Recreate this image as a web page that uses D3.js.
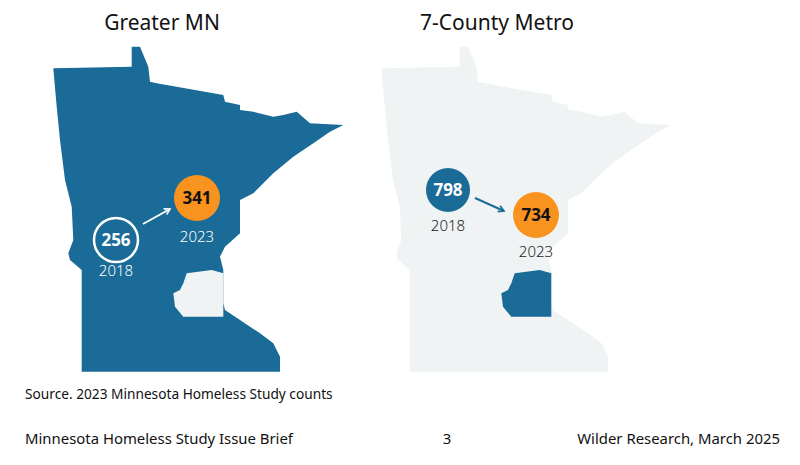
<!DOCTYPE html>
<html><head><meta charset="utf-8">
<script src="https://cdn.jsdelivr.net/npm/d3@7"></script>
<style>body{margin:0;background:#fff}text{font-family:"Noto Sans",sans-serif}</style>
</head><body><svg id="c" width="800" height="465"></svg>
<script>
// data //
const regions = ["Greater MN", "7-County Metro"];
const values2018 = [256, 798];
const values2023 = [341, 734];
const years = ["2018", "2023"];

const blue = "#1a6b97", pale = "#eff3f4", orange = "#f7931e";

// state outline, local coords of left map
const stateOutline = [[131.7,46.7],[140,46.7],[148.3,66.7],[150,81.7],[156.7,83.3],[223.3,95],[225,101.7],[240,105],[240,110],[253.3,111.7],[273.3,116.7],[283.3,115],[296.7,111.7],[310,123.3],[343.3,125],[330,131.7],[313.3,143.3],[293.3,156.7],[273.3,173.3],[253.3,193.3],[240,200],[240,233.3],[225,246.7],[220,256.7],[223.3,270],[223.3,303.3],[225,310],[240,320],[260,333.3],[273.3,343.3],[280,356.7],[280,371.7],[81.7,371.7],[81.7,270],[70,260],[68.3,253.3],[73.3,240],[71.7,206.7],[65,180],[60,140],[56.7,106.7],[53.3,68.3],[131.7,66.7]];
const metroOutline = [[186.7,273.3],[211.7,270],[223.3,273.3],[223.3,316.7],[183.3,316.7],[175,306.7],[173.3,293.3],[180,290],[183.3,283.3]];

const svg = d3.select("#c");
const line = d3.line().curve(d3.curveLinearClosed);
svg.append("defs").append("marker").attr("id","ah").attr("viewBox","0 0 10 10")
  .attr("refX",8).attr("refY",5).attr("markerWidth",4).attr("markerHeight",4).attr("orient","auto")
  .append("path").attr("d","M1,1L8,5L1,9").attr("fill","none").attr("stroke","context-stroke").attr("stroke-width",2);

const panels = [
  {dx:0, state:blue, metro:pale, c18:{x:116,y:240,fill:"none",stroke:"#fff",txt:"#fff"}, c23:{x:197,y:198}, lab18:270, lab23:236, labCol:"#fff", arrow:[[143,224],[170,209]], arrowCol:"#fff", title:162},
  {dx:328, state:pale, metro:blue, c18:{x:448,y:190,fill:blue,stroke:"none",txt:"#fff"}, c23:{x:536,y:215}, lab18:225, lab23:251, labCol:"#222", arrow:[[475,198],[504,211]], arrowCol:blue, title:497}
];

panels.forEach((p, i) => {
  const g = svg.append("g");
  g.append("path").attr("d", line(stateOutline.map(d => [d[0]+p.dx, d[1]]))).attr("fill", p.state);
  g.append("path").attr("d", line(metroOutline.map(d => [d[0]+p.dx, d[1]]))).attr("fill", p.metro);
  svg.append("text").attr("x", p.title).attr("y", 30).attr("text-anchor","middle")
    .attr("font-size", 21).attr("fill","#111").text(regions[i]);
  svg.append("path").attr("d", d3.line()(p.arrow)).attr("stroke", p.arrowCol).attr("stroke-width",2)
    .attr("fill","none").attr("marker-end","url(#ah)");
  // 2018
  svg.append("circle").attr("cx",p.c18.x).attr("cy",p.c18.y).attr("r",22)
    .attr("fill",p.c18.fill).attr("stroke",p.c18.stroke).attr("stroke-width",2.5);
  svg.append("text").attr("x",p.c18.x).attr("y",p.c18.y+6).attr("text-anchor","middle")
    .attr("font-size",17).attr("font-weight","bold").attr("fill",p.c18.txt).text(values2018[i]);
  svg.append("text").attr("x",p.c18.x).attr("y",p.lab18+6).attr("text-anchor","middle")
    .attr("font-size",15).attr("font-weight",300).attr("fill",p.labCol).text(years[0]);
  // 2023
  svg.append("circle").attr("cx",p.c23.x).attr("cy",p.c23.y).attr("r",23).attr("fill",orange);
  svg.append("text").attr("x",p.c23.x).attr("y",p.c23.y+6).attr("text-anchor","middle")
    .attr("font-size",17).attr("font-weight","bold").attr("fill","#111").text(values2023[i]);
  svg.append("text").attr("x",p.c23.x).attr("y",p.lab23+6).attr("text-anchor","middle")
    .attr("font-size",15).attr("font-weight",300).attr("fill",p.labCol).text(years[1]);
});

svg.append("text").attr("x",25).attr("y",399).attr("font-size",13.7).attr("fill","#111")
  .text("Source. 2023 Minnesota Homeless Study counts");
svg.append("text").attr("x",25).attr("y",444).attr("font-size",14.9).attr("fill","#111")
  .text("Minnesota Homeless Study Issue Brief");
svg.append("text").attr("x",447).attr("y",444).attr("font-size",14.9).attr("text-anchor","middle").attr("fill","#111").text("3");
svg.append("text").attr("x",780).attr("y",444).attr("font-size",14.9).attr("text-anchor","end").attr("fill","#111")
  .text("Wilder Research, March 2025");
</script></body></html>
